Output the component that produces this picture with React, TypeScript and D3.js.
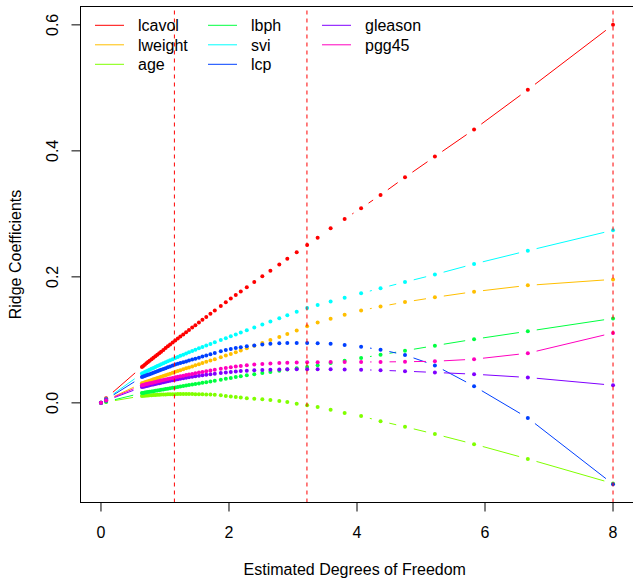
import React from "react";
import * as d3 from "d3";

// Estimated degrees of freedom at each ridge penalty
const df = [0, 0.08, 0.64, 0.66, 0.685, 0.71, 0.735, 0.76, 0.79, 0.82, 0.85, 0.88,
  0.91, 0.94, 0.975, 1.01, 1.045, 1.08, 1.12, 1.16, 1.2, 1.24,
  1.285, 1.33, 1.375, 1.425, 1.475, 1.53, 1.585, 1.645, 1.71,
  1.778, 1.872, 1.95, 2.028, 2.106, 2.184, 2.278, 2.395, 2.521, 2.647,
  2.786, 2.911, 3.058, 3.221, 3.385, 3.588, 3.807, 4.064, 4.368, 4.75,
  5.217, 5.829, 6.669, 8];

const lcavol = [0, 0.0075, 0.057, 0.0586, 0.0606, 0.0627, 0.0647, 0.0667, 0.0692, 0.0716, 0.074, 0.0764,
  0.0789, 0.0813, 0.0841, 0.087, 0.0898, 0.0926, 0.0959, 0.0991, 0.1021, 0.1052,
  0.1087, 0.1122, 0.1156, 0.1195, 0.1233, 0.1275, 0.1318, 0.1364, 0.1414,
  0.1466, 0.1539, 0.1599, 0.1657, 0.1713, 0.1768, 0.1835, 0.1919, 0.2008, 0.2098,
  0.2197, 0.2286, 0.2391, 0.2507, 0.262, 0.277, 0.292, 0.309, 0.33, 0.358,
  0.391, 0.434, 0.497, 0.6];

const lweight = [0, 0.0042, 0.031, 0.0317, 0.0326, 0.0334, 0.0343, 0.0352, 0.0362, 0.0373, 0.0383, 0.0394,
  0.0404, 0.0415, 0.0427, 0.0439, 0.0451, 0.0464, 0.0478, 0.0492, 0.0505, 0.0518,
  0.0533, 0.0548, 0.0563, 0.0579, 0.0596, 0.0614, 0.0632, 0.0651, 0.0672,
  0.0694, 0.0725, 0.075, 0.0777, 0.0804, 0.0832, 0.0865, 0.0906, 0.0951, 0.0996,
  0.1046, 0.1092, 0.115, 0.1215, 0.1275, 0.1337, 0.14, 0.1465, 0.153, 0.16,
  0.1675, 0.1765, 0.1865, 0.196];

const age = [0, 0.0013, 0.011, 0.0112, 0.0114, 0.0116, 0.0118, 0.012, 0.0122, 0.0124, 0.0126, 0.0128,
  0.013, 0.0131, 0.0133, 0.0134, 0.0135, 0.0136, 0.0137, 0.0138, 0.0139, 0.0139,
  0.014, 0.014, 0.014, 0.0139, 0.0138, 0.0137, 0.0136, 0.0134, 0.0132,
  0.013, 0.012, 0.011, 0.01, 0.0092, 0.0084, 0.0075, 0.0066, 0.0057, 0.0047,
  0.003, 0.0012, -0.0015, -0.0038, -0.0065, -0.011, -0.016, -0.021, -0.029, -0.038,
  -0.0495, -0.0655, -0.089, -0.128];

const lbph = [0, 0.0017, 0.0155, 0.0158, 0.0163, 0.0167, 0.0171, 0.0176, 0.0181, 0.0186, 0.0191, 0.0197,
  0.0202, 0.0207, 0.0213, 0.0219, 0.0225, 0.0231, 0.0238, 0.0245, 0.0252, 0.0259,
  0.0267, 0.0275, 0.0282, 0.0291, 0.03, 0.0309, 0.0319, 0.0329, 0.034,
  0.0352, 0.0368, 0.0382, 0.0395, 0.0409, 0.0422, 0.0438, 0.0455, 0.0473, 0.0491,
  0.051, 0.0528, 0.0549, 0.0571, 0.0598, 0.0632, 0.0669, 0.0712, 0.0763, 0.0828,
  0.0908, 0.101, 0.1137, 0.134];

const svi = [0, 0.0058, 0.0465, 0.0475, 0.0488, 0.05, 0.0513, 0.0525, 0.054, 0.0555, 0.057, 0.0584,
  0.0598, 0.0612, 0.0628, 0.0644, 0.066, 0.0676, 0.0694, 0.0712, 0.0729, 0.0746,
  0.0765, 0.0784, 0.0803, 0.0823, 0.0843, 0.0865, 0.0887, 0.091, 0.0935,
  0.0961, 0.0997, 0.1027, 0.1056, 0.1086, 0.1115, 0.1151, 0.1195, 0.1242, 0.129,
  0.1342, 0.1389, 0.1445, 0.1506, 0.1553, 0.161, 0.167, 0.1739, 0.1819, 0.1918,
  0.2037, 0.2205, 0.2415, 0.274];

const lcp = [0, 0.0052, 0.041, 0.0418, 0.0427, 0.0437, 0.0446, 0.0456, 0.0467, 0.0478, 0.049, 0.0501,
  0.0513, 0.0524, 0.0537, 0.0551, 0.0564, 0.0577, 0.0593, 0.0607, 0.0619, 0.0631,
  0.0645, 0.0658, 0.0672, 0.0687, 0.0702, 0.0718, 0.0735, 0.0753, 0.0772,
  0.0791, 0.0818, 0.0838, 0.0855, 0.0869, 0.0882, 0.0897, 0.0912, 0.0926, 0.0937,
  0.0945, 0.095, 0.0952, 0.0951, 0.0947, 0.0937, 0.092, 0.089, 0.0845, 0.076,
  0.0595, 0.0265, -0.024, -0.129];

const gleason = [0, 0.0035, 0.025, 0.0255, 0.0261, 0.0267, 0.0273, 0.0279, 0.0286, 0.0293, 0.03, 0.0306,
  0.0313, 0.032, 0.0328, 0.0335, 0.0343, 0.0351, 0.0359, 0.0367, 0.0374, 0.0381,
  0.0389, 0.0397, 0.0405, 0.0413, 0.0421, 0.0429, 0.0437, 0.0445, 0.0454,
  0.0463, 0.0474, 0.0483, 0.0491, 0.0498, 0.0505, 0.0511, 0.0517, 0.0523, 0.0527,
  0.0531, 0.0533, 0.0534, 0.0535, 0.0535, 0.0534, 0.0531, 0.0526, 0.0517, 0.0503,
  0.0483, 0.0455, 0.0403, 0.028];

const pgg45 = [0, 0.004, 0.028, 0.0285, 0.0291, 0.0298, 0.0304, 0.031, 0.0317, 0.0325, 0.0332, 0.034,
  0.0347, 0.0354, 0.0363, 0.0371, 0.0379, 0.0387, 0.0396, 0.0405, 0.0414, 0.0422,
  0.0431, 0.0441, 0.045, 0.046, 0.047, 0.0481, 0.0491, 0.0503, 0.0514,
  0.0526, 0.0541, 0.0553, 0.0565, 0.0576, 0.0586, 0.0597, 0.0607, 0.0616, 0.0624,
  0.0631, 0.0637, 0.0641, 0.0644, 0.0646, 0.0647, 0.0648, 0.0649, 0.065, 0.0653,
  0.066, 0.0693, 0.0788, 0.111];

const seriesNames = ["lcavol", "lweight", "age", "lbph", "svi", "lcp", "gleason", "pgg45"];
const seriesColors = ["#FF0000", "#FFBF00", "#80FF00", "#00FF40", "#00FFFF", "#0040FF", "#8000FF", "#FF00BF"];
const vLines = [1.147, 3.218, 8];
const xTicks = [0, 2, 4, 6, 8];
const yTicks = [0, 0.2, 0.4, 0.6];
const yTickLabels = ["0.0", "0.2", "0.4", "0.6"];

export default function App() {
  const W = 633, H = 580;
  const left = 80.5, right = 633.5, top = 6.5, bottom = 502.5;
  const font = "'Liberation Sans', Arial, Helvetica, sans-serif";
  const series = [lcavol, lweight, age, lbph, svi, lcp, gleason, pgg45];

  const xe = d3.extent(df) as [number, number];
  const xr = xe[1] - xe[0];
  const x = d3.scaleLinear().domain([xe[0] - 0.04 * xr, xe[1] + 0.04 * xr]).range([left, right]);
  const allY = series.flat();
  const ye = d3.extent(allY) as [number, number];
  const yr = ye[1] - ye[0];
  const y = d3.scaleLinear().domain([ye[0] - 0.04 * yr, ye[1] + 0.04 * yr]).range([bottom, top]);

  const gap = 9;
  const lineFor = d3.line();

  const legendCols = [[0, 1, 2], [3, 4, 5], [6, 7]];
  const colX = [95, 208, 322];

  return (
    <div style={{ position: "fixed", left: 0, top: 0, width: W, height: H, background: "#fff" }}>
      <svg width={W} height={H} style={{ display: "block" }} fontFamily={font}>
        <rect x={0} y={0} width={W} height={H} fill="#fff" />
        {series.map((s, si) => {
          const pts = df.map((d, i) => [x(d), y(s[i])] as [number, number]);
          const segs: JSX.Element[] = [];
          for (let i = 0; i < pts.length - 1; i++) {
            const [x1, y1] = pts[i];
            const [x2, y2] = pts[i + 1];
            const dx = x2 - x1, dy = y2 - y1;
            const len = Math.hypot(dx, dy);
            if (len > 2 * gap) {
              const ux = dx / len, uy = dy / len;
              segs.push(
                <path key={"s" + i}
                  d={lineFor([[x1 + ux * gap, y1 + uy * gap], [x2 - ux * gap, y2 - uy * gap]]) || ""}
                  stroke={seriesColors[si]} strokeWidth={1} fill="none" />
              );
            }
          }
          return (
            <g key={seriesNames[si]}>
              {segs}
              {pts.map((p, i) => (
                <circle key={"p" + i} cx={p[0]} cy={p[1]} r={2} fill={seriesColors[si]} />
              ))}
            </g>
          );
        })}
        {vLines.map((v, i) => (
          <line key={"v" + i} x1={x(v)} x2={x(v)} y1={bottom} y2={top}
            stroke="#FF0000" strokeWidth={1} strokeDasharray="4,4" />
        ))}
        {/* box */}
        <rect x={left} y={top} width={right - left} height={bottom - top} fill="none" stroke="#000" strokeWidth={1} />
        {/* x axis */}
        {xTicks.map((t) => (
          <g key={"xt" + t}>
            <line x1={x(t)} x2={x(t)} y1={bottom} y2={bottom + 9} stroke="#000" />
            <text x={x(t)} y={538} textAnchor="middle" fontSize={16} fill="#000">{t}</text>
          </g>
        ))}
        <text x={(left + 633) / 2 - 2} y={575} textAnchor="middle" fontSize={16} fill="#000">
          Estimated Degrees of Freedom
        </text>
        {/* y axis */}
        {yTicks.map((t, i) => (
          <g key={"yt" + t}>
            <line x1={left} x2={left - 9} y1={y(t)} y2={y(t)} stroke="#000" />
            <text transform={`translate(58,${y(t)}) rotate(-90)`} textAnchor="middle" fontSize={16} fill="#000">
              {yTickLabels[i]}
            </text>
          </g>
        ))}
        <text transform={`translate(21,${(top + bottom) / 2}) rotate(-90)`} textAnchor="middle" fontSize={16} fill="#000">
          Ridge Coefficients
        </text>
        {/* legend */}
        {legendCols.map((col, ci) =>
          col.map((si, ri) => {
            const ry = 25.3 + ri * 19.5;
            return (
              <g key={"lg" + si}>
                <line x1={colX[ci]} x2={colX[ci] + 29} y1={ry} y2={ry} stroke={seriesColors[si]} strokeWidth={1} />
                <text x={colX[ci] + 43} y={ry + 6} fontSize={16} fill="#000">{seriesNames[si]}</text>
              </g>
            );
          })
        )}
      </svg>
    </div>
  );
}
